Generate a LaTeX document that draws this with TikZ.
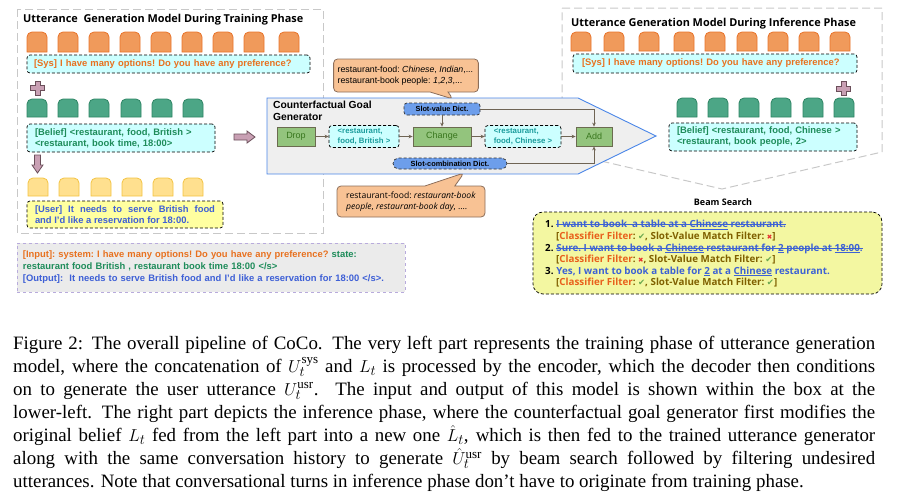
\documentclass[tikz,border=0pt]{standalone}
\usepackage{fontspec}
\setmainfont{Liberation Sans}
\newfontfamily\osans{Open Sans}
\newfontfamily\capserif{Liberation Serif}
\newfontfamily\djv{DejaVu Sans}
\usetikzlibrary{shapes.callouts,arrows.meta,calc}
\definecolor{tokor}{HTML}{F09A5B}
\definecolor{tokorb}{HTML}{E8732A}
\definecolor{tokgr}{HTML}{4CA686}
\definecolor{tokgrb}{HTML}{2E8464}
\definecolor{tokye}{HTML}{FFE08F}
\definecolor{tokyeb}{HTML}{F3C342}
\definecolor{cyanfill}{HTML}{CCFFFF}
\definecolor{sysorange}{HTML}{E8711F}
\definecolor{belgreen}{HTML}{1E8C5A}
\definecolor{tealtxt}{HTML}{1A9C9C}
\definecolor{userblue}{HTML}{3D5FD6}
\definecolor{userfill}{HTML}{FFFFA0}
\definecolor{inpfill}{HTML}{EBEBEB}
\definecolor{inpborder}{HTML}{B8ABDC}
\definecolor{cggfill}{HTML}{EFEFEF}
\definecolor{cggblue}{HTML}{4A86E8}
\definecolor{opfill}{HTML}{93C47D}
\definecolor{opborder}{HTML}{6B6B50}
\definecolor{optext}{HTML}{38761D}
\definecolor{dictblue}{HTML}{6D9EEB}
\definecolor{calfill}{HTML}{F8C294}
\definecolor{calborder}{HTML}{8C6E5A}
\definecolor{beamfill}{HTML}{F3F7A1}
\definecolor{beamblue}{HTML}{3D62D4}
\definecolor{olivebr}{HTML}{7F6000}
\definecolor{clsorange}{HTML}{E8601C}
\definecolor{chkgreen}{HTML}{6AA84F}
\definecolor{crsred}{HTML}{E53030}
\definecolor{connc}{HTML}{6F6454}
\definecolor{paneldash}{HTML}{C8C8C8}
\definecolor{pinkarr}{HTML}{C9A0B4}
\definecolor{pinkborder}{HTML}{6B4F5A}
\newcommand\tokshape[4]{%
  \filldraw[#4] (#1,#2+#3) -- (#1,#2+5) arc[start angle=180,end angle=90,radius=5pt]
    -- (#1+15,#2) arc[start angle=90,end angle=0,radius=5pt] -- (#1+20,#2+#3) -- cycle;}
\newcommand\plusshape[2]{%
  \filldraw[fill=pinkarr,draw=pinkborder,line width=0.8pt]
   (#1-2.5,#2-7) -- (#1+2.5,#2-7) -- (#1+2.5,#2-2.5) -- (#1+7,#2-2.5) -- (#1+7,#2+2.5)
   -- (#1+2.5,#2+2.5) -- (#1+2.5,#2+7) -- (#1-2.5,#2+7) -- (#1-2.5,#2+2.5) -- (#1-7,#2+2.5)
   -- (#1-7,#2-2.5) -- (#1-2.5,#2-2.5) -- cycle;}
\newcommand\mychk{{\djv\color{chkgreen}\fontsize{8.5}{10}\selectfont ✔}}
\newcommand\mycrs{{\djv\color{crsred}\fontsize{6.5}{8}\selectfont ✖}}
\newcommand\suptxt[1]{\hbox{\capserif\fontsize{13}{13}\selectfont #1}}
\begin{document}
\frenchspacing
\begin{tikzpicture}[x=1pt,y=-1pt,
  orangetok/.style={fill=tokor,draw=tokorb,line width=0.8pt},
  greentok/.style={fill=tokgr,draw=tokgrb,line width=0.8pt},
  yellowtok/.style={fill=tokye,draw=tokyeb,line width=0.8pt},
  panel/.style={draw=paneldash,line width=1pt,dash pattern=on 8pt off 4pt},
  cyanbox/.style={draw=black,densely dashed,line width=0.7pt,fill=cyanfill,rounded corners=3pt},
  bxf/.style={font=\fontsize{9.4}{11}\selectfont\bfseries},
  opbox/.style={fill=opfill,draw=opborder,line width=0.8pt,minimum height=19pt,inner sep=0pt,
     text=optext,font=\fontsize{9}{11}\selectfont},
  dictbox/.style={fill=dictblue,draw=black!80,densely dashed,line width=0.7pt,inner sep=0pt,
     font=\fontsize{7.3}{8}\selectfont\bfseries},
  smallcyan/.style={cyanbox,minimum width=70pt,minimum height=22pt,inner sep=0pt,align=left,
     text=tealtxt,font=\fontsize{7.8}{9.5}\selectfont\bfseries},
  conn/.style={draw=connc,line width=0.8pt,-{Stealth[length=4pt,width=3.6pt]}},
  callbox/.style={rectangle callout,fill=calfill,draw=calborder,line width=0.8pt,rounded corners=4pt,
     align=left,inner sep=0pt},
  bt/.style={inner sep=0pt,font=\osans\fontsize{9.8}{12}\selectfont\bfseries},
  ttl/.style={inner sep=0pt,font=\osans\fontsize{10.9}{13}\selectfont\bfseries}
]
\useasboundingbox (0,0) rectangle (902,498);

% panels
\draw[panel] (562,8) -- (882,8) -- (882,152) -- (722,189) -- (562,152) -- cycle;
\draw[panel] (17,9) rectangle (323,233);

% left panel
\node[ttl,anchor=base west] (ltitle) at (23,22) {Utterance\ \ Generation Model During Training Phase};
\foreach \x in {27,58,89,120,151,182,213,244,279} {\tokshape{\x}{32}{20}{orangetok}}
\node[cyanbox,bxf,text=sysorange,minimum height=18pt,inner xsep=7pt,inner ysep=0pt,text width=269pt,align=left]
  (sysL) at (168.5,64) {[Sys] I have many options! Do you have any preference?};
\plusshape{37.5}{88}
\foreach \x in {27,58,89,121,152,183} {\tokshape{\x}{99}{18}{greentok}}
\node[cyanbox,bxf,text=belgreen,minimum height=28pt,inner xsep=8pt,inner ysep=0pt,text width=172pt,align=left]
  (belL) at (121,138) {[Belief] <restaurant, food, British >\\<restaurant, book time, 18:00>};
\filldraw[fill=pinkarr,draw=pinkborder,line width=0.8pt]
  (34.5,155) -- (40.5,155) -- (40.5,165) -- (43,165) -- (37.5,173) -- (32,165) -- (34.5,165) -- cycle;
\foreach \x in {28,59,91,122,153,183} {\tokshape{\x}{178}{18}{yellowtok}}
\node[cyanbox,fill=userfill,bxf,text=userblue,minimum height=27pt,inner xsep=8pt,inner ysep=0pt,text width=180pt,align=justify]
  (userL) at (125,214.5) {[User] It needs to serve British food\linebreak and I’d like a reservation for 18:00.};

% input/output box
\node[fill=inpfill,draw=inpborder,dashed,line width=0.8pt,minimum height=49pt,inner xsep=6pt,inner ysep=0pt,
  text width=376pt,align=left,font=\fontsize{9.4}{12}\selectfont\bfseries] (io) at (211,267.5)
  {{\color{sysorange}[Input]: system: I have many options! Do you have any preference?} {\color{belgreen}state:}\\
   {\color{belgreen}restaurant food British , restaurant book time 18:00 </s>}\\
   {\color{userblue}[Output]:\ \ It needs to serve British food and I’d like a reservation for 18:00 </s>.}};

% pink arrow to generator
\filldraw[fill=pinkarr,draw=pinkborder,line width=0.8pt]
  (234,134) -- (247,134) -- (247,131) -- (255,137) -- (247,143) -- (247,140) -- (234,140) -- cycle;

% right panel
\node[ttl,anchor=base west] (rtitle) at (571,26) {Utterance Generation Model During Inference Phase};
\foreach \x in {571,604,639,674,705,737,768,799,830} {\tokshape{\x}{32}{19}{orangetok}}
\node[cyanbox,bxf,text=sysorange,minimum height=19pt,inner xsep=9pt,inner ysep=0pt,text width=266pt,align=left]
  (sysR) at (715,63.5) {[Sys] I have many options! Do you have any preference?};
\plusshape{843.5}{88.5}
\foreach \x in {677,708,739,771,803,834} {\tokshape{\x}{98}{19}{greentok}}
\node[cyanbox,bxf,text=belgreen,minimum height=28pt,inner xsep=8pt,inner ysep=0pt,text width=172pt,align=left]
  (belR) at (763,137) {[Belief] <restaurant, food, Chinese >\\<restaurant, book people, 2>};

% counterfactual goal generator
\filldraw[fill=cggfill,draw=cggblue,line width=0.9pt] (267,98) -- (578,98) -- (656,136) -- (578,174) -- (267,174) -- cycle;
\node[anchor=north west,inner sep=0pt,align=left,font=\fontsize{10.3}{12}\selectfont\bfseries] (cggt) at (273,101)
  {Counterfactual Goal\\Generator};
\node[dictbox,minimum width=76pt,minimum height=12pt,rounded corners=3pt] (slotv) at (442,109) {Slot-value Dict.};
\node[opbox,minimum width=38pt] (drop) at (296,136.5) {Drop};
\node[smallcyan] (brit) at (364,136.5) {<restaurant,\\food, British >};
\node[opbox,minimum width=58pt] (change) at (442,136.5) {Change};
\node[smallcyan,minimum width=76pt] (chin) at (523,136.5) {<restaurant,\\food, Chinese >};
\node[opbox,minimum width=36pt] (add) at (594,136.5) {Add};
\node[dictbox,minimum width=114pt,minimum height=11pt,rounded corners=5.5pt,font=\fontsize{7.4}{8}\selectfont\bfseries]
  (slotc) at (450,163.5) {Slot-combination Dict.};
\draw[conn] (drop) -- (brit);
\draw[conn] (brit) -- (change);
\draw[conn] (change) -- (chin);
\draw[conn] (chin) -- (add);
\draw[conn] (slotv) -- (change);
\draw[conn] (slotv.east) -| (add.north);
\draw[conn] (slotc.east) -| (add.south);

% callouts
\node[callbox,callout absolute pointer={(453,99)},callout pointer width=18pt,minimum width=140pt,minimum height=33pt,
  inner xsep=4pt,font=\fontsize{8.8}{11}\selectfont] (calT) at (406,75.5)
  {restaurant-food: \textit{Chinese}, \textit{Indian},...\\restaurant-book people: \textit{1},\textit{2},\textit{3},...\hspace*{12pt}};
\node[callbox,callout absolute pointer={(464,173)},callout pointer width=30pt,minimum width=148pt,minimum height=31pt,
  font=\osans\fontsize{8.6}{10.5}\selectfont] (calB) at (411,201.5)
  {restaurant-food: \textit{restaurant-book}\\\textit{people}, \textit{restaurant-book day}, ....\hspace*{8pt}};

% beam search
\node[bt,anchor=center,font=\osans\fontsize{9}{11}\selectfont\bfseries] (beamlbl) at (723,202) {Beam Search};
\node[draw=black,densely dashed,line width=0.7pt,fill=beamfill,rounded corners=10pt,minimum width=349pt,
  minimum height=82pt,inner sep=0pt] (beam) at (707.5,253) {};
\node[bt,anchor=base west] (n1) at (545,227.5) {1.};
\node[bt,anchor=base west,text=beamblue] (s1) at ([xshift=2.5pt]n1.base east) {I want to book\ \ a table at a \underline{Chinese} restaurant.};
\draw[beamblue,line width=0.7pt] ([yshift=3pt]s1.base west) -- ([yshift=3pt]s1.base east);
\node[bt,anchor=base west,text=olivebr] (f1) at (556,239.5) {[{\color{clsorange}Classifier Filter}: \mychk, Slot-Value Match Filter: \mycrs]};
\node[bt,anchor=base west] (n2) at (545,251) {2.};
\node[bt,anchor=base west,text=beamblue] (s2) at ([xshift=2.5pt]n2.base east) {Sure. I want to book a \underline{Chinese} restaurant for \underline{2} people at \underline{18:00}.};
\draw[beamblue,line width=0.7pt] ([yshift=3pt]s2.base west) -- ([yshift=3pt]s2.base east);
\node[bt,anchor=base west,text=olivebr] (f2) at (556,262.5) {[{\color{clsorange}Classifier Filter}: \mycrs, Slot-Value Match Filter: \mychk]};
\node[bt,anchor=base west] (n3) at (545,274) {3.};
\node[bt,anchor=base west,text=beamblue] (s3) at ([xshift=2.5pt]n3.base east) {Yes, I want to book a table for \underline{2} at a \underline{Chinese} restaurant.};
\node[bt,anchor=base west,text=olivebr] (f3) at (556,285.5) {[{\color{clsorange}Classifier Filter}: \mychk, Slot-Value Match Filter: \mychk]};

% caption
\node[anchor=base west,inner sep=0pt] (cap) at (13,349) {\parbox[t]{862pt}{\nonfrenchspacing\capserif\fontsize{18.9}{23.1}\selectfont
Figure 2: The overall pipeline of CoCo. The very left part represents the training phase of utterance generation\linebreak
model, where the concatenation of $U_t^{\suptxt{sys}}$ and $L_t$ is processed by the encoder, which the decoder then conditions\linebreak
on to generate the user utterance $U_t^{\suptxt{usr}}$. The input and output of this model is shown within the box at the\linebreak
lower-left. The right part depicts the inference phase, where the counterfactual goal generator first modifies the\linebreak
original belief $L_t$ fed from the left part into a new one $\hat{L}_t$, which is then fed to the trained utterance generator\linebreak
along with the same conversation history to generate $\hat{U}_t^{\suptxt{usr}}$ by beam search followed by filtering undesired\linebreak
utterances. Note that conversational turns in inference phase don’t have to originate from training phase.}};
\end{tikzpicture}
\end{document}
